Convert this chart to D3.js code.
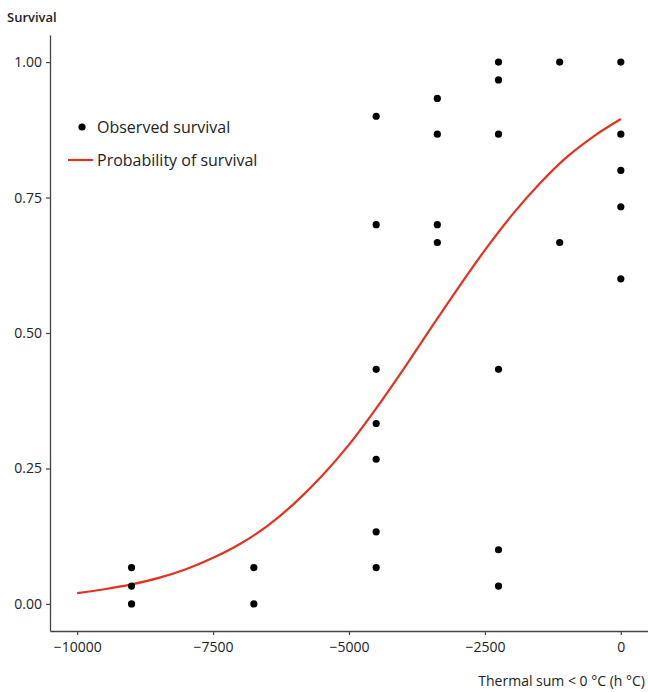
<!DOCTYPE html>
<html>
<head>
<meta charset="utf-8">
<script src="https://cdn.jsdelivr.net/npm/d3@7"></script>
<style>
  body { margin: 0; background: #fff; }
  svg text { font-family: "Open Sans", "Noto Sans", sans-serif; fill: #222; }
</style>
</head>
<body>
<div id="chart-area"></div>
<script>
// observed survival, one row per tree group
var obsX = [-9000, -9000, -9000,
            -6750, -6750,
            -4500, -4500, -4500, -4500, -4500, -4500, -4500,
            -3375, -3375, -3375, -3375,
            -2250, -2250, -2250, -2250, -2250, -2250,
            -1125, -1125,
            0, 0, 0, 0, 0];
var obsY = [0.067, 0.033, 0,
            0.067, 0,
            0.9, 0.7, 0.433, 0.333, 0.267, 0.133, 0.067,
            0.933, 0.867, 0.7, 0.667,
            1, 0.967, 0.867, 0.433, 0.1, 0.033,
            1, 0.667,
            1, 0.867, 0.8, 0.733, 0.6];

// fitted probability curve
var fitX = [-10000, -9500, -9000, -8500, -8000, -7500, -7000, -6500, -6000, -5500, -5000,
            -4500, -4000, -3500, -3000, -2500, -2000, -1500, -1000, -500, 0];
var fitY = [0.020, 0.027, 0.036, 0.048, 0.064, 0.085, 0.111, 0.144, 0.186, 0.236, 0.294,
            0.361, 0.433, 0.508, 0.582, 0.653, 0.718, 0.775, 0.824, 0.863, 0.895];

var xTicks = [-10000, -7500, -5000, -2500, 0];
var yTicks = [0, 0.25, 0.5, 0.75, 1];

var width = 648;
var height = 692;

var svg = d3.select("#chart-area").append("svg")
    .attr("width", width)
    .attr("height", height);

var x = d3.scaleLinear()
    .domain([-10500, 500])
    .range([50, 648]);
var y = d3.scaleLinear()
    .domain([-0.05, 1.05])
    .range([631, 35]);

var bottomAxis = d3.axisBottom(x)
    .tickValues(xTicks)
    .tickSize(4)
    .tickSizeOuter(0)
    .tickPadding(4)
    .tickFormat(d3.format("d"));
var leftAxis = d3.axisLeft(y)
    .tickValues(yTicks)
    .tickSize(4)
    .tickSizeOuter(0)
    .tickPadding(4)
    .tickFormat(d3.format(".2f"));

var xg = svg.append("g")
    .attr("transform", "translate(0," + 631 + ")")
    .call(bottomAxis);
var yg = svg.append("g")
    .attr("transform", "translate(" + 50 + ",0)")
    .call(leftAxis);

[xg, yg].forEach(function(a) {
  a.select(".domain").attr("stroke", "#444").attr("stroke-width", 1.3);
  a.selectAll(".tick line").attr("stroke", "#444").attr("stroke-width", 1.2);
  a.selectAll(".tick text")
    .attr("font-size", "14px")
    .attr("fill", "#222")
    .attr("font-family", "'Open Sans', sans-serif");
});
xg.selectAll(".tick text").attr("dy", "0.95em");

// Y label
svg.append("text")
    .attr("x", 7)
    .attr("y", 22)
    .attr("font-size", "13px")
    .attr("font-weight", 600)
    .text("Survival");
// X label
svg.append("text")
    .attr("x", 645)
    .attr("y", 686)
    .attr("font-size", "14px")
    .attr("text-anchor", "end")
    .text("Thermal sum < 0 \u00b0C (h \u00b0C)");

// fitted curve
var line = d3.line()
    .x(function(d, i) { return x(fitX[i]); })
    .y(function(d) { return y(d); })
    .curve(d3.curveMonotoneX);
svg.append("path")
    .datum(fitY)
    .attr("fill", "none")
    .attr("stroke", "#e5321f")
    .attr("stroke-width", 2.2)
    .attr("d", line);

// observed points
svg.selectAll("circle.obs")
    .data(obsY)
    .enter().append("circle")
    .attr("class", "obs")
    .attr("cx", function(d, i) { return x(obsX[i]); })
    .attr("cy", function(d) { return y(d); })
    .attr("r", 3.6)
    .attr("fill", "#000");

// legend
var legend = svg.append("g");
legend.append("circle")
    .attr("cx", 82)
    .attr("cy", 127)
    .attr("r", 3.6)
    .attr("fill", "#000");
legend.append("text")
    .attr("x", 97)
    .attr("y", 127)
    .attr("dy", "0.35em")
    .attr("font-size", "16px")
    .text("Observed survival");
legend.append("line")
    .attr("x1", 68)
    .attr("x2", 93)
    .attr("y1", 160)
    .attr("y2", 160)
    .attr("stroke", "#e5321f")
    .attr("stroke-width", 2.2);
legend.append("text")
    .attr("x", 97)
    .attr("y", 160)
    .attr("dy", "0.35em")
    .attr("font-size", "16px")
    .text("Probability of survival");
</script>
</body>
</html>
